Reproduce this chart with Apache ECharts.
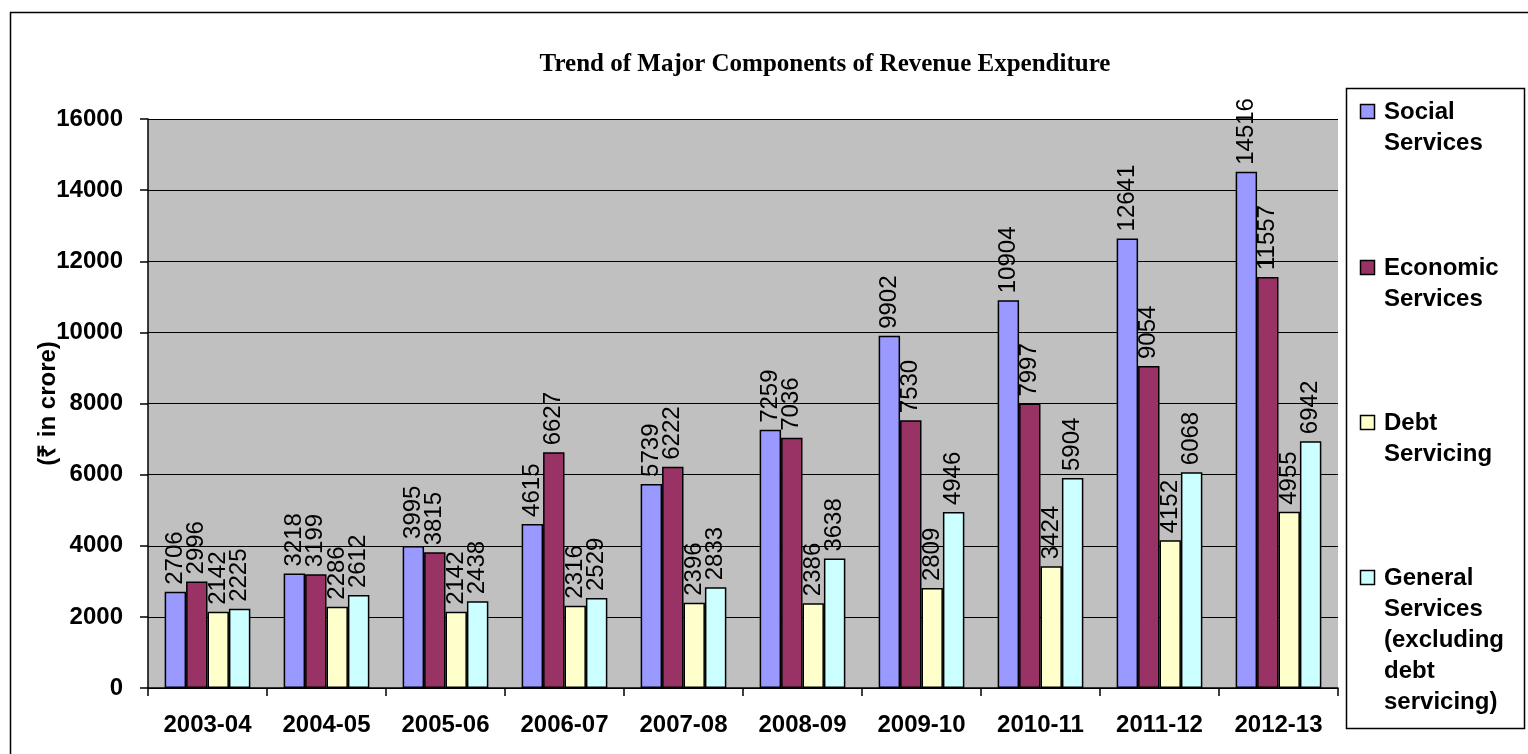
<!DOCTYPE html>
<html><head><meta charset="utf-8">
<script src="https://cdn.jsdelivr.net/npm/echarts@6/dist/echarts.min.js"></script>
<style>html,body{margin:0;padding:0;background:#fff}#c{width:1528px;height:754px}</style>
</head><body><div id="c"></div>
<script>
const categories = ['2003-04','2004-05','2005-06','2006-07','2007-08','2008-09','2009-10','2010-11','2011-12','2012-13'];
const socialServices = [2706,3218,3995,4615,5739,7259,9902,10904,12641,14516];
const economicServices = [2996,3199,3815,6627,6222,7036,7530,7997,9054,11557];
const debtServicing = [2142,2286,2142,2316,2396,2386,2809,3424,4152,4955];
const generalServices = [2225,2612,2438,2529,2833,3638,4946,5904,6068,6942];
const seriesNames = ['Social\nServices','Economic\nServices','Debt\nServicing','General\nServices\n(excluding\ndebt\nservicing)'];
const colors = ['#9999FF','#993366','#FFFFCC','#CCFFFF'];
const yTicks = [0,2000,4000,6000,8000,10000,12000,14000,16000];

const chart = echarts.init(document.getElementById('c'));
const font = 'Liberation Sans, Arial, sans-serif';
const LH = 31;
const legendFirstLine = [112, 268, 423, 578];
function mk(name, data, color){
  return {name, type:'bar', data, barGap:'0%', barCategoryGap:'28%',
    itemStyle:{color, borderColor:'#000', borderWidth:1.5},
    label:{show:true, position:'top', rotate:90, align:'left', verticalAlign:'middle', distance:7,
      color:'#000', fontSize:24, fontFamily:font}};
}
const legends = seriesNames.map((nm, i) => ({
  orient:'vertical', left:1364, top:legendFirstLine[i] - LH/2, padding:0,
  itemWidth:14, itemHeight:14, icon:'rect', itemStyle:{opacity:0},
  textStyle:{fontFamily:font, fontWeight:'bold', fontSize:24, color:'#000', lineHeight:LH},
  data:[nm]}));
const legendIcons = colors.map((c, i) => ({type:'rect', silent:true,
  shape:{x:1360.5, y:legendFirstLine[i] - 7.5, width:14, height:14},
  style:{fill:c, stroke:'#000', lineWidth:1.5}}));
chart.setOption({
  animation:false,
  title:{text:'Trend of Major Components of Revenue Expenditure', left:820, top:47, textAlign:'center',
    textStyle:{fontFamily:'Liberation Serif, Times New Roman, serif', fontWeight:'bold', fontSize:25, color:'#000'}},
  graphic:[{type:'rect', shape:{x:10.5,y:12.5,width:1540,height:760}, style:{fill:'none', stroke:'#000', lineWidth:1.5}, silent:true},
           {type:'rect', shape:{x:1346.5,y:88.5,width:178,height:640}, style:{fill:'none', stroke:'#000', lineWidth:1.5}, silent:true}
          ].concat(legendIcons),
  legend:legends,
  grid:{left:148, top:119, width:1190, height:569, backgroundColor:'#C0C0C0', show:true, borderWidth:0},
  xAxis:{type:'category', data:categories,
    axisLine:{lineStyle:{color:'#000', width:1.5}},
    axisTick:{show:true, length:8, lineStyle:{color:'#000', width:1.5}},
    axisLabel:{fontFamily:font, fontWeight:'bold', fontSize:24, color:'#000', margin:25}},
  yAxis:{type:'value', min:0, max:16000, interval:2000,
    name:'(₹ in crore)', nameLocation:'middle', nameGap:88, nameRotate:90, nameMoveOverlap:false,
    nameTextStyle:{fontFamily:font, fontWeight:'bold', fontSize:24, color:'#000'},
    axisLine:{show:true, lineStyle:{color:'#000', width:1.5}},
    axisTick:{show:true, length:8, lineStyle:{color:'#000', width:1.5}},
    splitLine:{show:true, lineStyle:{color:'#000', width:1.2}},
    axisLabel:{fontFamily:font, fontWeight:'bold', fontSize:24, color:'#000', margin:25,
      formatter:v=>yTicks.includes(v)?String(v):''}},
  series:[mk(seriesNames[0],socialServices,colors[0]),mk(seriesNames[1],economicServices,colors[1]),
          mk(seriesNames[2],debtServicing,colors[2]),mk(seriesNames[3],generalServices,colors[3])]
});
</script></body></html>
